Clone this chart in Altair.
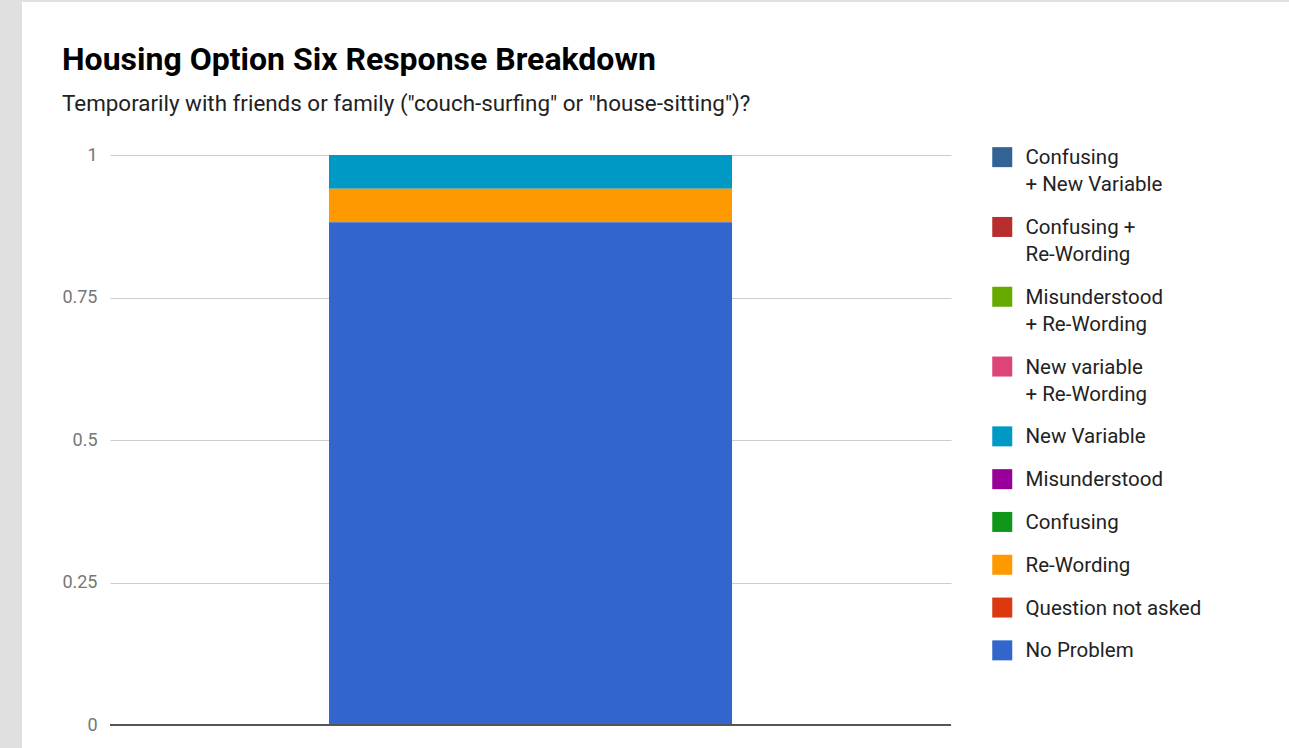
import altair as alt
import pandas as pd

# Legend order (top to bottom) and colours
categories = [
    "Confusing\n+ New Variable",
    "Confusing +\nRe-Wording",
    "Misunderstood\n + Re-Wording",
    "New variable\n+ Re-Wording",
    "New Variable",
    "Misunderstood",
    "Confusing",
    "Re-Wording",
    "Question not asked",
    "No Problem",
]
colors = [
    "#316395", "#b82e2e", "#66aa00", "#dd4477", "#0099c6",
    "#990099", "#109618", "#ff9900", "#dc3912", "#3366cc",
]
values = [0, 0, 0, 0, 0.059, 0, 0, 0.059, 0, 0.882]
stack_order = [10, 9, 8, 7, 6, 5, 4, 3, 2, 1]
question = ["Temporarily with friends or family"] * len(categories)

df = pd.DataFrame({
    "question": question,
    "category": categories,
    "value": values,
    "order": stack_order,
})

W, H = 841, 570
PAD_L, PAD_T = 110, 155

bars = alt.Chart(df).mark_bar(size=403).encode(
    x=alt.X("question:N", axis=None, scale=alt.Scale(paddingOuter=0.5)),
    y=alt.Y(
        "value:Q",
        stack="zero",
        scale=alt.Scale(domain=[0, 1], nice=False),
        axis=alt.Axis(
            title=None,
            values=[0, 0.25, 0.5, 0.75, 1],
            format="~g",
            ticks=False,
            domain=False,
            grid=True,
            gridColor="#cccccc",
            gridWidth=1,
            labelColor="#777777",
            labelFont="Roboto",
            labelFontSize=18,
            labelPadding=13,
        ),
    ),
    color=alt.Color(
        "category:N",
        scale=alt.Scale(domain=categories, range=colors),
        legend=alt.Legend(
            title=None,
            orient="none",
            legendX=882,
            legendY=-17,
            padding=0,
            symbolType="M-1,-0.11H1V1.89H-1Z",
            symbolSize=400,
            symbolStrokeWidth=0,
            symbolOpacity=1,
            labelFont="Roboto",
            labelFontSize=20.5,
            labelColor="#222222",
            labelLimit=400,
            labelOffset=13,
            labelBaseline="top",
            labelExpr="split(datum.label, '\\n')",
            rowPadding=11.8,
        ),
    ),
    order=alt.Order("order:Q"),
)

zero_line = alt.Chart(pd.DataFrame({"v": [0]})).mark_rule(
    color="#555555", strokeWidth=1.8
).encode(y=alt.Y("v:Q"))

left_strip = alt.Chart(pd.DataFrame({"a": [0]})).mark_rect(color="#e0e0e0").encode(
    x=alt.value(-PAD_L), x2=alt.value(-PAD_L + 22),
    y=alt.value(-PAD_T), y2=alt.value(H + 23),
)
top_strip = alt.Chart(pd.DataFrame({"a": [0]})).mark_rect(color="#e0e0e0").encode(
    x=alt.value(-PAD_L), x2=alt.value(1289 - PAD_L),
    y=alt.value(-PAD_T), y2=alt.value(-PAD_T + 2),
)

chart = alt.layer(left_strip, top_strip, bars, zero_line).properties(
    width=W,
    height=H,
    padding={"left": PAD_L, "top": PAD_T, "right": 1289 - PAD_L - W, "bottom": 748 - PAD_T - H},
    autosize=alt.AutoSizeParams(type="none"),
    background="white",
    title=alt.Title(
        "Housing Option Six Response Breakdown",
        subtitle='Temporarily with friends or family ("couch-surfing" or "house-sitting")?',
        anchor="start",
        frame="group",
        dx=-48,
        offset=-116,
        font="Roboto",
        fontSize=32,
        fontWeight="bold",
        color="#000000",
        subtitleFont="Roboto",
        subtitleFontSize=22.4,
        subtitleColor="#222222",
        subtitlePadding=16,
    ),
).configure(
    style={"guide-label": {"lineHeight": 27}}
).configure_view(strokeWidth=0, stroke="transparent")

chart.save("out.html", embed_options={"renderer": "svg", "actions": False})
